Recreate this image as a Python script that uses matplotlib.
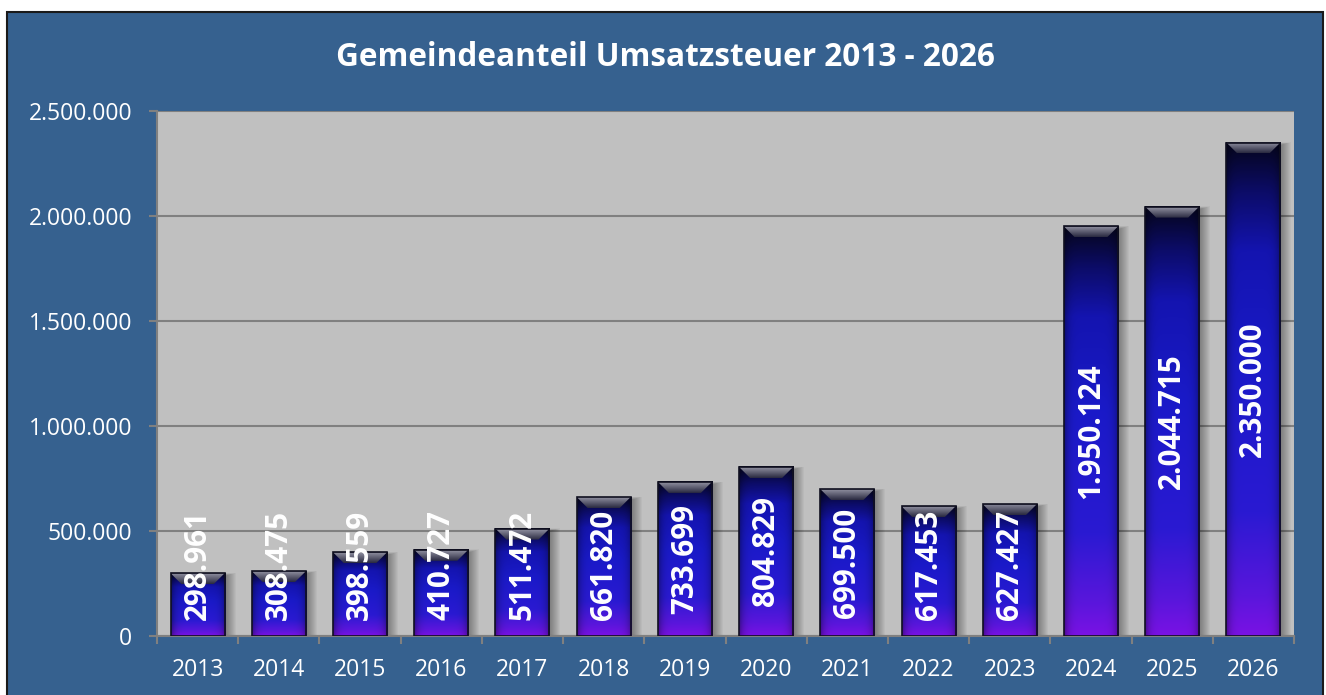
import matplotlib.pyplot as plt
import numpy as np
from matplotlib.colors import LinearSegmentedColormap, to_rgb
from matplotlib.patches import Rectangle, Polygon
from matplotlib.ticker import FuncFormatter, FixedLocator

plt.rcParams['font.family'] = ['Open Sans', 'DejaVu Sans']

years = ['2013', '2014', '2015', '2016', '2017', '2018', '2019',
         '2020', '2021', '2022', '2023', '2024', '2025', '2026']
values = [298961, 308475, 398559, 410727, 511472, 661820, 733699,
          804829, 699500, 617453, 627427, 1950124, 2044715, 2350000]
title = 'Gemeindeanteil Umsatzsteuer 2013 - 2026'

BG = '#36618f'
PLOT_BG = '#c0c0c0'


def de_fmt(v, pos=None):
    return f'{int(v):,}'.replace(',', '.')


# vertical colour ramp of the bars (bottom -> top)
bar_cmap = LinearSegmentedColormap.from_list('bar', [
    (0.0, '#7a12e4'), (0.08, '#5a16dc'), (0.25, '#2a1ad2'),
    (0.55, '#1a1ac8'), (0.78, '#1414b0'), (0.90, '#0c0c68'),
    (1.0, '#05051c')])

fig = plt.figure(figsize=(13.26, 6.95), dpi=100)
fig.patch.set_facecolor('white')
W, H = 1326, 695
fig.patches.append(Rectangle((7 / W, -0.01), 1316 / W, 1 - 12 / H + 0.01,
                             transform=fig.transFigure, facecolor=BG,
                             edgecolor='#1a1a1a', linewidth=1.5, zorder=-10))

ax = fig.add_axes([157 / W, 59 / H, 1137 / W, 525 / H])
ax.set_facecolor(PLOT_BG)
ax.set_xlim(-0.5, len(years) - 0.5)
ax.set_ylim(0, 2500000)

px_x = len(years) / 1137.0
px_y = 2500000 / 525.0
bw = 0.665

# bar image: vertical gradient + slight darkening at the sides
ny, nx = 256, 40
ramp = bar_cmap(np.linspace(0, 1, ny))[:, :3]
side = 1 - 0.35 * np.abs(np.linspace(-1, 1, nx)) ** 6
img = ramp[:, None, :] * side[None, :, None]

labels = []
for i, v in enumerate(values):
    x0, x1 = i - bw / 2, i + bw / 2
    # soft shadow to the right
    for k in range(1, 12):
        ax.add_patch(Rectangle((x0 + 3 * px_x, 0), bw - 3 * px_x + k * px_x,
                               v - 3 * px_y + (k * 0.3) * px_y,
                               facecolor='black', alpha=0.035, linewidth=0,
                               zorder=2))
    ax.imshow(img, extent=(x0, x1, 0, v), origin='lower', aspect='auto',
              zorder=3, interpolation='bilinear')
    # top bevel
    d, t = 11 * px_x, 11 * px_y
    bevel = Polygon([(x0, v), (x1, v), (x1 - d, v - t), (x0 + d, v - t)],
                    closed=True, facecolor='none', edgecolor='none', zorder=4)
    ax.add_patch(bevel)
    bev = np.linspace(0, 1, 32)[:, None]
    bev_img = np.ones((32, 2, 3))
    c_top, c_bot = np.array(to_rgb('#9090a0')), np.array(to_rgb('#2a2a40'))
    bev_img[:] = (c_bot + (c_top - c_bot) * bev)[:, None, :]
    im = ax.imshow(bev_img, extent=(x0, x1, v - t, v), origin='lower',
                   aspect='auto', zorder=4, interpolation='bilinear')
    im.set_clip_path(bevel)
    ax.add_patch(Rectangle((x0, 0), bw, v, facecolor='none',
                           edgecolor='#101020', linewidth=1.2, zorder=5))
    txt = ax.text(i, v / 2, de_fmt(v), rotation=90, ha='center',
                  va='center', color='white', fontsize=21.3,
                  fontweight='bold', zorder=6)
    labels.append((txt, v))

ax.set_xlim(-0.5, len(years) - 0.5)
ax.set_ylim(0, 2500000)

# labels that do not fit in the bar are pushed up from the base
fig.canvas.draw()
renderer = fig.canvas.get_renderer()
for txt, v in labels:
    half = txt.get_window_extent(renderer).height / 2 * px_y
    txt.set_y(max(v / 2, half + 16 * px_y))

ax.yaxis.set_major_locator(FixedLocator(np.arange(0, 2500001, 500000)))
ax.yaxis.set_major_formatter(FuncFormatter(de_fmt))
ax.grid(axis='y', color='#808080', linewidth=1.5, zorder=1)
ax.set_axisbelow(True)

ax.set_xticks(range(len(years)))
ax.set_xticklabels(years)
ax.set_xticks(np.arange(-0.5, len(years), 1), minor=True)
ax.tick_params(axis='x', which='major', length=0, pad=16, labelsize=16.5,
               labelcolor='white')
ax.tick_params(axis='x', which='minor', length=6, width=1.5, color='#808080',
               direction='out')
ax.tick_params(axis='y', length=6, width=1.5, color='#808080', pad=12,
               labelsize=16.5, labelcolor='white')

for s in ['right', 'top']:
    ax.spines[s].set_visible(False)
for s in ['left', 'bottom']:
    ax.spines[s].set_color('#808080')
    ax.spines[s].set_linewidth(1.5)

fig.text(0.5015, 1 - 58 / H, title, ha='center', va='center',
         color='white', fontsize=22.7, fontweight='bold')

fig.savefig('out.png', dpi=100)
